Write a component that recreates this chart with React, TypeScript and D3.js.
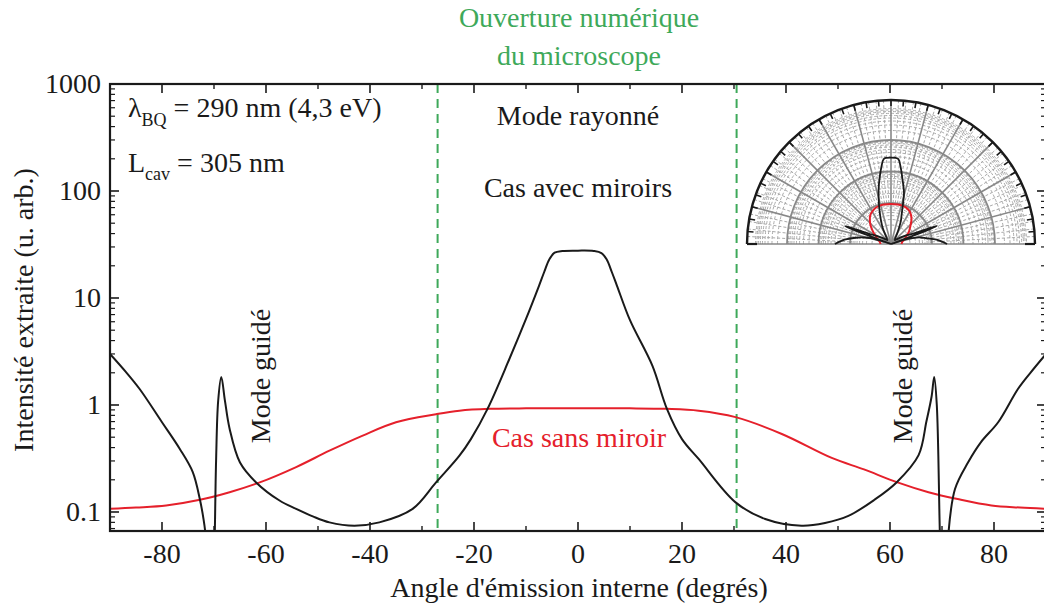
import React from 'react';
import * as d3 from 'd3';

// ---------------- data ----------------
const xTickValues = [-80, -60, -40, -20, 0, 20, 40, 60, 80];
const xMinorTickValues = [-90, -70, -50, -30, -10, 10, 30, 50, 70, 90];
const yTickValues = [0.1, 1, 10, 100, 1000];
const yTickLabels = ['0.1', '1', '10', '100', '1000'];

// "Cas avec miroirs" (black)
const mirrorAngles = [
  -90, -87, -84.3, -80, -76.6, -74.1, -72.7, -72, -71.6, -71, -70.5, -70, -69.6, -69.2, -68.6,
  -67.9, -67, -65, -61.9, -57.4, -54.2, -51, -47.8, -43, -38.2, -31.8, -27.3, -22.8, -20.6, -17.4,
  -13.2, -10, -7.5, -6.5, -5.5, -4.5, -3, 0, 3, 4.5, 5.5, 6.5, 7.5, 10, 14.3, 17.1, 20, 23.2, 30.3,
  36, 43, 47.5, 52, 57, 61.3, 65.5, 67, 68, 68.5, 69, 69.6, 70.1, 70.7, 71.2, 72.5, 75, 77.5,
  80.8, 84.6, 87, 90,
];
const mirrorIntensity = [
  3.0, 2.05, 1.41, 0.69, 0.39, 0.237, 0.13, 0.085, 0.06, 0.02, 0.01, 0.03, 0.3, 1.09, 1.83,
  1.1, 0.6, 0.29, 0.189, 0.128, 0.107, 0.091, 0.08, 0.0745, 0.08, 0.107, 0.189, 0.336, 0.48, 0.92,
  2.69, 6.37, 13, 17.5, 23, 26.5, 27.5, 27.7, 27.5, 26.3, 23, 17.5, 13, 6.2, 2.33, 0.92, 0.48, 0.313, 0.123,
  0.086, 0.0745, 0.079, 0.092, 0.13, 0.19, 0.34, 0.7, 1.2, 1.83, 1.0, 0.06, 0.01, 0.01, 0.06, 0.164, 0.29, 0.45,
  0.69, 1.41, 2.0, 3.0,
];

// "Cas sans miroir" (red)
const noMirrorAngles = [
  -90, -85, -79.2, -72.7, -67, -61.2, -54.2, -47.8, -41.4, -35, -27.3, -22.8, -17, -10,
  0, 10, 17, 23.2, 30.3, 39.2, 48.8, 55, 61.3, 67.4, 73, 79.5, 85, 90,
];
const noMirrorIntensity = [
  0.107, 0.11, 0.115, 0.13, 0.153, 0.189, 0.263, 0.374, 0.518, 0.69, 0.82, 0.885, 0.92, 0.93,
  0.93, 0.93, 0.92, 0.885, 0.77, 0.536, 0.32, 0.25, 0.19, 0.153, 0.132, 0.115, 0.11, 0.107,
];

const apertureAngles = [-27, 30.5];
const titleLines = ['Ouverture numérique', 'du microscope'];

// ---------------- layout ----------------
const W = 1044;
const H = 608;
const L = 110, R = 1046, T = 84, B = 531;
const BLACK = '#1a1a1a';
const RED = '#e5202b';
const GREEN = '#3ea95a';
const FONT = "'Liberation Serif', 'Times New Roman', 'DejaVu Serif', serif";

export default function App() {
  const x = d3.scaleLinear().domain([-90, 90]).range([L, R]);
  const y = d3.scaleLog().domain([0.06643, 1000]).range([B, T]);

  const mirrorData: [number, number][] = mirrorAngles.map((a, i) => [a, mirrorIntensity[i]]);
  const noMirrorData: [number, number][] = noMirrorAngles.map((a, i) => [a, noMirrorIntensity[i]]);

  const line = d3
    .line<[number, number]>()
    .x((d) => x(d[0]))
    .y((d) => y(d[1]))
    .curve(d3.curveCatmullRom.alpha(0.5));

  const yMinor: number[] = [];
  [0.01, 0.1, 1, 10, 100].forEach((dec) => {
    for (let k = 2; k <= 9; k++) {
      const v = dec * k;
      if (v >= 0.06643 && v <= 1000) yMinor.push(v);
    }
  });

  // ---- polar inset ----
  const cx = 891, cy = 244, PR = 144;
  const rScale = d3.scaleLog().domain([1, 100]).range([41, 104]);
  const rr = (v: number) => Math.max(0, rScale(v));
  const radial = d3
    .lineRadial<[number, number]>()
    .angle((d) => (d[0] * Math.PI) / 180)
    .radius((d) => rr(d[1]))
    .curve(d3.curveCatmullRom.alpha(0.5));

  const majorCircles = [1, 10, 100];
  const minorCircles: number[] = [];
  [0.1, 1, 10, 100, 1000].forEach((dec) => {
    for (let k = 2; k <= 9; k++) {
      const v = dec * k;
      if (rScale(v) < PR - 1 && rScale(v) > 15) minorCircles.push(v);
    }
  });
  minorCircles.push(1000);
  const spokes = d3.range(-90, 91, 15);
  const minorSpokes = d3.range(-90, 91, 3).filter((a) => a % 15 !== 0);
  const angTicks = d3.range(-90, 91, 5);
  const arc = (r: number) => `M${-r},0A${r},${r} 0 0 1 ${r},0`;
  const pol = (a: number, r: number) => [r * Math.sin((a * Math.PI) / 180), -r * Math.cos((a * Math.PI) / 180)];

  const txt = { fontFamily: FONT, fontSize: 28 } as const;

  return (
    <svg
      width={W}
      height={H}
      fontFamily={FONT}
      style={{ position: 'absolute', left: 0, top: 0, background: '#fff' }}
    >
      <defs>
        <clipPath id="plotClip">
          <rect x={L} y={T} width={R - L} height={B - T} />
        </clipPath>
      </defs>

      {/* aperture lines */}
      {apertureAngles.map((a) => (
        <line key={a} x1={x(a)} x2={x(a)} y1={T} y2={B} stroke={GREEN} strokeWidth={2} strokeDasharray="9,6" />
      ))}

      {/* curves */}
      <g clipPath="url(#plotClip)">
        <path d={line(noMirrorData) || ''} fill="none" stroke={RED} strokeWidth={2} />
        <path d={line(mirrorData) || ''} fill="none" stroke={BLACK} strokeWidth={2} />
      </g>

      {/* frame */}
      <rect x={L} y={T} width={R - L} height={B - T} fill="none" stroke={BLACK} strokeWidth={2.2} />
      {/* x ticks */}
      {xTickValues.map((v) => (
        <g key={'xt' + v}>
          <line x1={x(v)} x2={x(v)} y1={B} y2={B - 9} stroke={BLACK} strokeWidth={1.6} />
          <line x1={x(v)} x2={x(v)} y1={T} y2={T + 9} stroke={BLACK} strokeWidth={1.6} />
          <text x={x(v)} y={563} textAnchor="middle" {...txt} fill={BLACK}>
            {String(v)}
          </text>
        </g>
      ))}
      {xMinorTickValues.map((v) => (
        <g key={'xm' + v}>
          <line x1={x(v)} x2={x(v)} y1={B} y2={B - 5} stroke={BLACK} strokeWidth={1.4} />
          <line x1={x(v)} x2={x(v)} y1={T} y2={T + 5} stroke={BLACK} strokeWidth={1.4} />
        </g>
      ))}
      {/* y ticks */}
      {yTickValues.map((v, i) => (
        <g key={'yt' + v}>
          <line x1={L} x2={L + 9} y1={y(v)} y2={y(v)} stroke={BLACK} strokeWidth={1.6} />
          <line x1={R} x2={R - 9} y1={y(v)} y2={y(v)} stroke={BLACK} strokeWidth={1.6} />
          <text x={101} y={y(v) + 9} textAnchor="end" {...txt} fill={BLACK}>
            {yTickLabels[i]}
          </text>
        </g>
      ))}
      {yMinor.map((v) => (
        <g key={'ym' + v}>
          <line x1={L} x2={L + 5} y1={y(v)} y2={y(v)} stroke={BLACK} strokeWidth={1.2} />
          <line x1={R} x2={R - 5} y1={y(v)} y2={y(v)} stroke={BLACK} strokeWidth={1.2} />
        </g>
      ))}

      {/* axis titles */}
      <text x={579} y={597} textAnchor="middle" {...txt} fill={BLACK}>
        Angle d'émission interne (degrés)
      </text>
      <text transform="translate(33,310) rotate(-90)" textAnchor="middle" {...txt} fill={BLACK}>
        Intensité extraite (u. arb.)
      </text>

      {/* title */}
      {titleLines.map((t, i) => (
        <text key={t} x={579} y={27 + i * 38} textAnchor="middle" {...txt} fill={GREEN}>
          {t}
        </text>
      ))}

      {/* annotations */}
      <text x={578} y={125} textAnchor="middle" {...txt} fill={BLACK}>
        Mode rayonné
      </text>
      <text x={578} y={197} textAnchor="middle" {...txt} fill={BLACK}>
        Cas avec miroirs
      </text>
      <text x={579} y={447} textAnchor="middle" {...txt} fill={RED}>
        Cas sans miroir
      </text>
      <text transform="translate(270,376) rotate(-90)" textAnchor="middle" {...txt} fill={BLACK}>
        Mode guidé
      </text>
      <text transform="translate(912,376) rotate(-90)" textAnchor="middle" {...txt} fill={BLACK}>
        Mode guidé
      </text>
      <text x={128} y={117} {...txt} fill={BLACK}>
        λ
        <tspan fontSize={18} dy={9}>BQ</tspan>
        <tspan dy={-9}> = 290 nm (4,3 eV)</tspan>
      </text>
      <text x={128} y={172} {...txt} fill={BLACK}>
        L
        <tspan fontSize={18} dy={8}>cav</tspan>
        <tspan dy={-8}> = 305 nm</tspan>
      </text>

      {/* polar inset */}
      <g transform={`translate(${cx},${cy})`}>
        <path d={arc(PR) + 'Z'} fill="#fff" stroke="none" />
        {minorCircles.map((v) => (
          <path key={'mc' + v} d={arc(rScale(v))} fill="none" stroke="#aaaaaa" strokeWidth={1} strokeDasharray="3,2" />
        ))}
        {minorSpokes.map((a) => {
          const [x1, y1] = pol(a, 41);
          const [x2, y2] = pol(a, PR);
          return <line key={'ms' + a} x1={x1} y1={y1} x2={x2} y2={y2} stroke="#aaaaaa" strokeWidth={1} strokeDasharray="3,2" />;
        })}
        {majorCircles.map((v) => (
          <path key={'c' + v} d={arc(rScale(v))} fill="none" stroke="#888" strokeWidth={1.8} />
        ))}
        {spokes.map((a) => {
          const [x2, y2] = pol(a, PR);
          return <line key={'s' + a} x1={0} y1={0} x2={x2} y2={y2} stroke="#888" strokeWidth={1.6} />;
        })}
        <path d={arc(PR)} fill="none" stroke={BLACK} strokeWidth={2.4} />
        <line x1={-PR} x2={-PR + 10} y1={0} y2={0} stroke={BLACK} strokeWidth={2.2} />
        <line x1={PR - 10} x2={PR} y1={0} y2={0} stroke={BLACK} strokeWidth={2.2} />
        {angTicks.map((a) => {
          const [x1, y1] = pol(a, PR);
          const [x2, y2] = pol(a, PR - 6);
          return <line key={'at' + a} x1={x1} y1={y1} x2={x2} y2={y2} stroke={BLACK} strokeWidth={1.6} />;
        })}
        <path d={radial(noMirrorData) || ''} fill="none" stroke={RED} strokeWidth={2} />
        <path d={radial(mirrorData) || ''} fill="none" stroke={BLACK} strokeWidth={1.8} />
      </g>
    </svg>
  );
}
